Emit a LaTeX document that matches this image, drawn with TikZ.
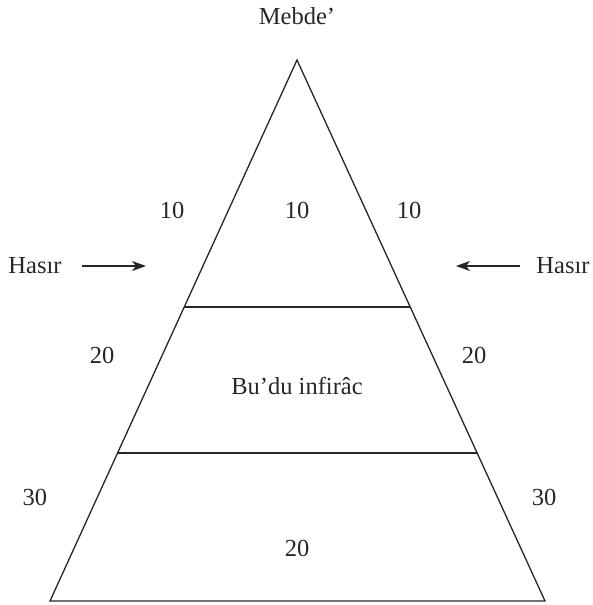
\documentclass[tikz,border=0pt]{standalone}
\usepackage{fontspec}
\setmainfont{Liberation Serif}
\usetikzlibrary{arrows.meta,calc}
\begin{document}
\begin{tikzpicture}[x=1pt,y=-1pt,
  lbl/.style={font=\fontsize{24.5}{28}\selectfont, text=black!85, inner sep=0pt},
  edge/.style={line width=1.3pt, black!85},
  arr/.style={line width=1.2pt, black!85, -{Stealth[length=14pt,width=10pt,inset=4pt]}}]
\useasboundingbox (0,0) rectangle (592,605);
\coordinate (apex) at (297,60);
\coordinate (bl) at (50,601);
\coordinate (br) at (545,601);
\coordinate (l1) at ($(apex)!0.4566!(bl)$);
\coordinate (r1) at ($(apex)!0.4566!(br)$);
\coordinate (l2) at ($(apex)!0.7264!(bl)$);
\coordinate (r2) at ($(apex)!0.7264!(br)$);
\draw[edge, line join=miter] (apex) -- (bl) -- (br) -- cycle;
\draw[edge] (l1) -- (r1);
\draw[edge] (l2) -- (r2);
\node[lbl] (top) at (297,16) {Mebde’};
\node[lbl] (t1) at (172,210) {10};
\node[lbl] (t2) at (297,210) {10};
\node[lbl] (t3) at (409,210) {10};
\node[lbl] (hl) at (35,266) {Hasır};
\node[lbl] (hr) at (563,266) {Hasır};
\coordinate (al1) at (82,266);
\coordinate (al2) at (146,266);
\coordinate (ar1) at (520,266);
\coordinate (ar2) at (456,266);
\draw[arr] (al1) -- (al2);
\draw[arr] (ar1) -- (ar2);
\node[lbl] (m1) at (102,355) {20};
\node[lbl] (m2) at (474,355) {20};
\node[lbl] (mid) at (297,386) {Bu’du infirâc};
\node[lbl] (b1) at (35,497) {30};
\node[lbl] (b2) at (544,497) {30};
\node[lbl] (b3) at (297,548) {20};
\end{tikzpicture}
\end{document}
